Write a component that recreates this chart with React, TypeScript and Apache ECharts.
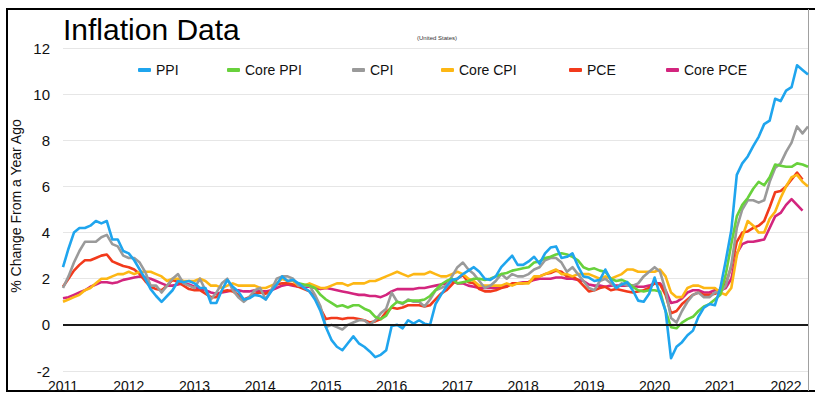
import React, { useEffect, useRef } from "react";
import * as echarts from "echarts";

const FONT = '"Liberation Sans", Arial, Helvetica, sans-serif';

// Monthly observations, Jan 2011 .. May 2022
const startYear = 2011;
const monthCount = 137;
const months: string[] = [];
for (let i = 0; i < monthCount; i++) {
  const y = startYear + Math.floor(i / 12);
  const m = (i % 12) + 1;
  months.push(`${y}-${m < 10 ? "0" + m : m}`);
}

const ppi = [
  2.5, 3.3, 4.0, 4.2, 4.2, 4.3, 4.5, 4.4, 4.5, 3.7, 3.7, 3.2,
  3.1, 2.8, 2.4, 2.0, 1.55, 1.25, 1.0, 1.25, 1.5, 1.9, 1.85, 1.9,
  1.8, 1.6, 1.6, 0.95, 0.95, 1.5, 1.95, 1.65, 1.45, 1.1, 1.15, 1.3,
  1.25, 1.1, 1.45, 1.75, 2.1, 1.9, 1.95, 1.8, 1.6, 1.45, 1.1, 0.6,
  -0.1, -0.65, -0.95, -1.1, -0.8, -0.5, -0.8, -0.95, -1.15, -1.4, -1.3, -1.1,
  -0.05, 0.0, -0.15, 0.2, 0.05, 0.2, 0.05, 0.0, 0.9, 1.3, 1.65, 1.95,
  2.0, 2.2, 2.35, 2.5, 2.3, 2.0, 1.95, 2.1, 2.5, 2.75, 3.0, 2.6,
  2.6, 2.75, 2.95, 2.65, 3.1, 3.35, 3.4, 2.9, 2.95, 3.1, 2.55, 2.1,
  2.05, 1.9, 1.95, 2.4, 1.95, 1.6, 1.75, 1.85, 1.5, 1.05, 1.0, 1.35,
  2.05, 1.3, 0.6, -1.45, -0.95, -0.75, -0.45, -0.25, 0.35, 0.75, 0.9, 0.85,
  1.6, 2.8, 4.1, 6.5, 7.0, 7.3, 7.75, 8.15, 8.7, 8.85, 9.8, 9.7,
  10.15, 10.3, 11.25, 11.05, 10.85,
];

// Core PPI series begins Aug 2014
const corePpiFirstMonth = 43;
const corePpiValues = [
  1.8, 1.75, 1.7, 1.6, 1.3,
  1.1, 0.95, 0.8, 0.85, 0.75, 0.85, 0.85, 0.7, 0.6, 0.35, 0.25, 0.4,
  0.8, 1.0, 0.95, 1.05, 1.05, 1.05, 1.1, 1.25, 1.5, 1.75, 1.9, 2.0,
  1.8, 1.85, 1.9, 2.0, 2.0, 1.95, 2.0, 2.1, 2.2, 2.25, 2.35, 2.4,
  2.45, 2.5, 2.7, 2.75, 2.9, 2.95, 3.05, 3.1, 3.05, 2.95, 2.8, 2.5,
  2.4, 2.45, 2.35, 2.3, 2.0, 1.9, 1.95, 1.85, 1.65, 1.5, 1.45, 1.5,
  1.5, 1.45, 0.6, -0.1, -0.15, 0.1, 0.25, 0.35, 0.6, 0.8, 0.9, 1.1,
  1.3, 2.2, 3.5, 4.7, 5.2, 5.5, 5.9, 6.2, 6.05, 6.4, 6.95, 6.9,
  6.85, 6.85, 7.0, 6.95, 6.85,
];

const cpi = [
  1.6, 2.1, 2.7, 3.2, 3.6, 3.6, 3.6, 3.8, 3.9, 3.5, 3.4, 3.0,
  2.9, 2.9, 2.7, 2.3, 1.7, 1.7, 1.4, 1.7, 2.0, 2.2, 1.8, 1.7,
  1.6, 2.0, 1.5, 1.1, 1.4, 1.8, 2.0, 1.5, 1.2, 1.0, 1.2, 1.5,
  1.6, 1.1, 1.5, 2.0, 2.1, 2.1, 2.0, 1.7, 1.7, 1.7, 1.3, 0.8,
  -0.1, 0.0, -0.1, -0.2, 0.0, 0.1, 0.2, 0.2, 0.0, 0.2, 0.5, 0.7,
  1.4, 1.0, 0.9, 1.1, 1.0, 1.0, 0.8, 1.1, 1.5, 1.6, 1.7, 2.1,
  2.5, 2.7, 2.4, 2.2, 1.9, 1.6, 1.7, 1.9, 2.2, 2.0, 2.2, 2.1,
  2.1, 2.2, 2.4, 2.5, 2.8, 2.9, 2.9, 2.7, 2.3, 2.5, 2.2, 1.9,
  1.6, 1.5, 1.9, 2.0, 1.8, 1.6, 1.8, 1.7, 1.7, 1.8, 2.1, 2.3,
  2.5, 2.3, 1.5, 0.3, 0.1, 0.6, 1.0, 1.3, 1.4, 1.2, 1.2, 1.4,
  1.4, 1.7, 2.6, 4.2, 5.0, 5.4, 5.4, 5.3, 5.4, 6.2, 6.8, 7.0,
  7.5, 7.9, 8.6, 8.3, 8.6,
];

const coreCpi = [
  1.0, 1.1, 1.2, 1.3, 1.5, 1.6, 1.8, 2.0, 2.0, 2.1, 2.2, 2.2,
  2.3, 2.2, 2.3, 2.3, 2.3, 2.2, 2.1, 1.9, 2.0, 2.0, 1.9, 1.9,
  1.9, 2.0, 1.9, 1.7, 1.7, 1.6, 1.7, 1.8, 1.7, 1.7, 1.7, 1.7,
  1.6, 1.6, 1.7, 1.8, 2.0, 1.9, 1.9, 1.7, 1.7, 1.8, 1.7, 1.6,
  1.6, 1.7, 1.8, 1.8, 1.7, 1.8, 1.8, 1.8, 1.9, 1.9, 2.0, 2.1,
  2.2, 2.3, 2.2, 2.1, 2.2, 2.2, 2.2, 2.3, 2.2, 2.1, 2.1, 2.2,
  2.3, 2.2, 2.0, 1.9, 1.7, 1.7, 1.7, 1.7, 1.7, 1.8, 1.7, 1.8,
  1.8, 1.8, 2.1, 2.1, 2.2, 2.3, 2.4, 2.2, 2.2, 2.1, 2.2, 2.2,
  2.2, 2.1, 2.0, 2.1, 2.0, 2.1, 2.2, 2.4, 2.4, 2.3, 2.3, 2.3,
  2.3, 2.4, 2.1, 1.4, 1.2, 1.2, 1.6, 1.7, 1.7, 1.6, 1.6, 1.6,
  1.4, 1.3, 1.6, 3.0, 3.8, 4.5, 4.3, 4.0, 4.0, 4.6, 4.9, 5.5,
  6.0, 6.4, 6.5, 6.2, 6.0,
];

// PCE series end Apr 2022
const pce = [
  1.65, 2.0, 2.35, 2.6, 2.8, 2.8, 2.9, 3.0, 3.05, 2.75, 2.65, 2.55,
  2.5, 2.4, 2.2, 1.9, 1.65, 1.55, 1.5, 1.7, 1.95, 1.85, 1.7, 1.55,
  1.5, 1.5, 1.35, 1.2, 1.2, 1.45, 1.5, 1.45, 1.3, 1.1, 1.2, 1.35,
  1.4, 1.35, 1.5, 1.75, 1.8, 1.8, 1.75, 1.65, 1.55, 1.45, 1.2, 0.7,
  0.25, 0.3, 0.3, 0.25, 0.3, 0.3, 0.25, 0.2, 0.1, 0.15, 0.25, 0.55,
  0.75, 0.7, 0.75, 0.85, 0.85, 0.85, 0.8, 0.85, 1.1, 1.35, 1.5, 1.75,
  2.0, 2.15, 1.85, 1.8, 1.55, 1.45, 1.45, 1.5, 1.6, 1.65, 1.8, 1.8,
  1.8, 1.85, 2.0, 2.1, 2.2, 2.25, 2.35, 2.3, 2.1, 2.1, 1.95, 1.7,
  1.45, 1.5, 1.6, 1.65, 1.5, 1.55, 1.5, 1.45, 1.4, 1.45, 1.5, 1.6,
  1.8, 1.75, 1.3, 0.5, 0.6, 0.9, 1.1, 1.3, 1.4, 1.3, 1.3, 1.35,
  1.45, 1.8, 2.5, 3.6, 4.0, 4.05, 4.2, 4.3, 4.5, 5.1, 5.75, 5.8,
  6.0, 6.3, 6.6, 6.3,
];

const corePce = [
  1.15, 1.2, 1.3, 1.4, 1.5, 1.65, 1.75, 1.85, 1.85, 1.8, 1.85, 1.95,
  2.0, 2.05, 2.1, 2.05, 2.0, 1.9, 1.8, 1.7, 1.7, 1.75, 1.8, 1.75,
  1.65, 1.55, 1.5, 1.4, 1.35, 1.4, 1.45, 1.5, 1.5, 1.45, 1.45, 1.5,
  1.45, 1.45, 1.5, 1.6, 1.7, 1.75, 1.7, 1.65, 1.65, 1.65, 1.6, 1.55,
  1.6, 1.55, 1.5, 1.45, 1.4, 1.35, 1.3, 1.3, 1.25, 1.25, 1.2, 1.3,
  1.45, 1.55, 1.55, 1.55, 1.55, 1.6, 1.6, 1.65, 1.7, 1.75, 1.8, 1.9,
  1.8, 1.8, 1.7, 1.65, 1.6, 1.6, 1.6, 1.6, 1.65, 1.7, 1.75, 1.8,
  1.85, 1.85, 1.95, 2.0, 2.0, 2.0, 2.05, 2.05, 2.0, 2.0, 1.95, 1.9,
  1.75, 1.7, 1.7, 1.65, 1.7, 1.7, 1.7, 1.7, 1.7, 1.65, 1.65, 1.7,
  1.8, 1.8, 1.5, 0.95, 1.0, 1.15, 1.4, 1.5, 1.5, 1.4, 1.4, 1.5,
  1.5, 1.6, 2.0, 3.1, 3.5, 3.6, 3.6, 3.65, 3.7, 4.2, 4.7, 4.85,
  5.2, 5.45, 5.2, 4.95,
];

const seriesNames = ["PPI", "Core PPI", "CPI", "Core CPI", "PCE", "Core PCE"];
const seriesColors = ["#1FA5EE", "#68D13C", "#9A9A9A", "#FDB714", "#F23A1C", "#D3257E"];
const yTicks = { min: -2, max: 12, step: 2 };

function pad(values: (number | null)[], first: number): (number | null)[] {
  const out: (number | null)[] = [];
  for (let i = 0; i < monthCount; i++) {
    const k = i - first;
    out.push(k >= 0 && k < values.length ? values[k] : null);
  }
  return out;
}

export default function App() {
  const ref = useRef<HTMLDivElement>(null);

  useEffect(() => {
    document.body.style.margin = "0";
    if (!ref.current) return;
    const chart = echarts.init(ref.current, undefined, { renderer: "svg" });

    const dataByName: Record<string, (number | null)[]> = {
      PPI: pad(ppi, 0),
      "Core PPI": pad(corePpiValues, corePpiFirstMonth),
      CPI: pad(cpi, 0),
      "Core CPI": pad(coreCpi, 0),
      PCE: pad(pce, 0),
      "Core PCE": pad(corePce, 0),
    };

    const drawOrder = ["Core PCE", "PCE", "Core CPI", "CPI", "Core PPI", "PPI"];
    const series: any[] = drawOrder.map((name) => {
      const idx = seriesNames.indexOf(name);
      return {
        name,
        type: "line",
        data: dataByName[name],
        symbol: "none",
        connectNulls: false,
        lineStyle: { width: 2.6, color: seriesColors[idx], join: "round" },
        itemStyle: { color: seriesColors[idx] },
        z: 3,
      };
    });
    series.unshift({
      name: "zero",
      type: "line",
      data: [],
      markLine: {
        silent: true,
        symbol: ["none", "none"],
        label: { show: false },
        lineStyle: { color: "#1a1a1a", width: 2, type: "solid" },
        data: [{ yAxis: 0 }],
      },
      z: 2,
    });

    const legendLefts = [133, 222, 347, 436, 564, 661];
    const legends = seriesNames.map((name, i) => ({
      data: [name],
      left: legendLefts[i],
      top: 57,
      icon: "roundRect",
      itemWidth: 13,
      itemHeight: 4,
      selectedMode: false,
      textStyle: {
        fontFamily: FONT,
        fontSize: 14,
        color: "#111",
        lineHeight: 16,
      },
    }));

    chart.setOption({
      animation: false,
      backgroundColor: "#ffffff",
      textStyle: { fontFamily: FONT },
      title: {
        text: "Inflation Data",
        left: 58,
        top: 9,
        textStyle: { fontFamily: FONT, fontSize: 30, fontWeight: "normal", color: "#000" },
      },
      legend: legends,
      grid: { left: 63, right: 7, top: 48, bottom: 31, containLabel: false },
      xAxis: {
        type: "category",
        data: months,
        boundaryGap: false,
        axisLine: { show: false },
        axisTick: { show: false },
        splitLine: { show: false },
        axisLabel: {
          interval: 11,
          formatter: (v: string) => v.slice(0, 4),
          fontFamily: FONT,
          fontSize: 14,
          color: "#111",
          margin: 8,
        },
      },
      yAxis: {
        type: "value",
        min: yTicks.min,
        max: yTicks.max,
        interval: yTicks.step,
        axisLine: { show: false },
        axisTick: { show: false },
        axisLabel: { fontFamily: FONT, fontSize: 15, color: "#111", margin: 13 },
        splitLine: { lineStyle: { color: "#e6e6e6", width: 1 } },
      },
      series,
      graphic: [
        { type: "line", shape: { x1: 7, y1: 9, x2: 815, y2: 9 }, style: { stroke: "#000", lineWidth: 2 }, silent: true },
        { type: "line", shape: { x1: 7, y1: 8, x2: 7, y2: 392 }, style: { stroke: "#000", lineWidth: 2 }, silent: true },
        { type: "line", shape: { x1: 7, y1: 391, x2: 815, y2: 391 }, style: { stroke: "#000", lineWidth: 2 }, silent: true },
        { type: "line", shape: { x1: 808.5, y1: 9, x2: 808.5, y2: 391 }, style: { stroke: "#a0a0a0", lineWidth: 1 }, silent: true },
        {
          type: "text",
          x: 437,
          y: 38,
          style: { text: "(United States)", fontFamily: FONT, fontSize: 6, fill: "#333", textAlign: "center", textVerticalAlign: "middle" },
          silent: true,
        },
        {
          type: "text",
          x: 16,
          y: 206,
          rotation: Math.PI / 2,
          style: { text: "% Change From a Year Ago", fontFamily: FONT, fontSize: 14, fill: "#111", textAlign: "center", textVerticalAlign: "middle" },
          silent: true,
        },
      ],
    });

    return () => chart.dispose();
  }, []);

  return <div ref={ref} style={{ width: 815, height: 402 }} />;
}
